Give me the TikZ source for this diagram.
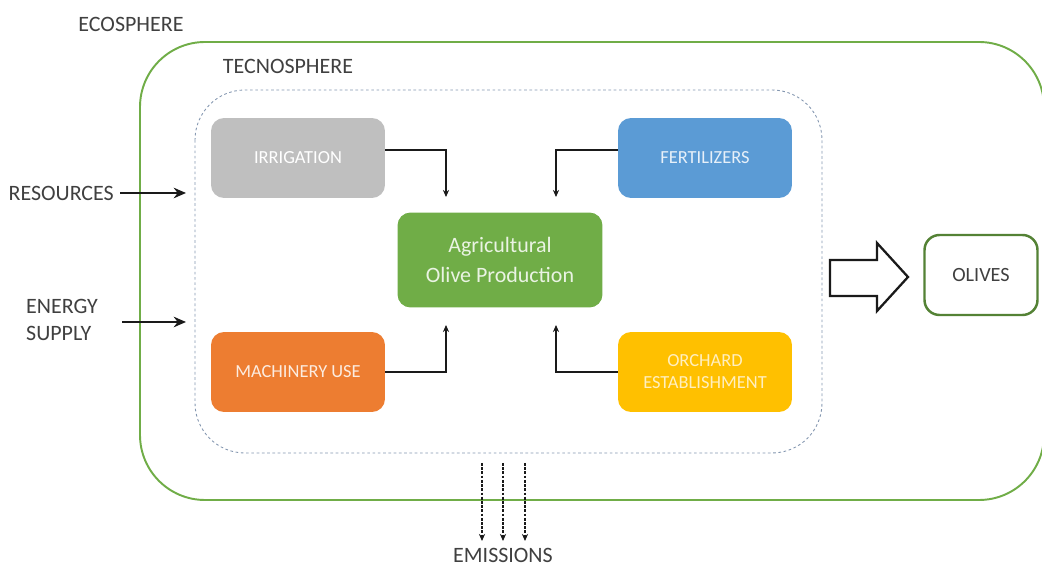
\documentclass[tikz,border=0pt]{standalone}
\usepackage{fontspec}
\setmainfont{Carlito}
\usepackage{xcolor}
\usepackage{tikz}
\usetikzlibrary{arrows.meta}
\definecolor{lcgreen}{HTML}{70AD47}
\definecolor{lcgreend}{HTML}{548235}
\definecolor{lcgrey}{HTML}{BFBFBF}
\definecolor{lcblue}{HTML}{5B9BD5}
\definecolor{lcorange}{HTML}{ED7D31}
\definecolor{lcyellow}{HTML}{FFC000}
\definecolor{lcink}{HTML}{1A1A1A}
\definecolor{lctext}{HTML}{404040}
\definecolor{lcdot}{HTML}{8497B0}
\tikzset{
  lcbox/.style={rectangle, rounded corners=0.26cm, minimum width=3.48cm, minimum height=1.6cm, align=center, font=\fontsize{10.5}{12.5}\selectfont},
  lclabel/.style={text=lctext, align=center, font=\fontsize{12.5}{15}\selectfont},
  lcflow/.style={draw=lcink, line width=0.6pt, -{Stealth[length=4pt, width=3.5pt]}},
  lcin/.style={draw=lcink, line width=1.2pt, -{Stealth[length=7pt, width=6pt]}},
  lcemit/.style={draw=lcink, line width=0.8pt, dash pattern=on 1.6pt off 0.8pt, -{Stealth[length=4pt, width=3.5pt]}}
}

\begin{document}
\begin{tikzpicture}[x=0.02cm, y=-0.02cm]
  \useasboundingbox[fill=white] (0,0) rectangle (1042,567);
  % spheres
  \draw[lcgreen, line width=1.1pt, rounded corners=1.3cm] (140,42) rectangle (1044,500);
  \draw[lcdot, line width=0.5pt, dash pattern=on 1.5pt off 1.5pt, rounded corners=1cm] (195,90) rectangle (822,453);
  \node[lclabel] (eco) at (131,24) {ECOSPHERE};
  \node[lclabel] (tecno) at (288,66) {TECNOSPHERE};
  % processes
  \node[lcbox, fill=lcgrey, text=white] (irr) at (298,158) {IRRIGATION};
  \node[lcbox, fill=lcblue, text=white!85!lcblue] (fert) at (705,158) {FERTILIZERS};
  \node[lcbox, fill=lcorange, text=white!85!lcorange] (mach) at (298,372) {MACHINERY USE};
  \node[lcbox, fill=lcyellow, text=white!75!lcyellow] (orch) at (705,372) {ORCHARD\\ESTABLISHMENT};
  \node[lcbox, fill=lcgreen, text=white!85!lcgreen, minimum width=4.1cm, minimum height=1.9cm, font=\fontsize{12.5}{17}\selectfont] (prod) at (500,260) {Agricultural\\Olive Production};
  \coordinate (irrend) at (446,197);
  \coordinate (fertend) at (556,197);
  \coordinate (machend) at (446,325);
  \coordinate (orchend) at (556,325);
  \draw[lcflow] ([yshift=0.16cm]irr.east) -| (irrend);
  \draw[lcflow] ([yshift=0.16cm]fert.west) -| (fertend);
  \draw[lcflow] (mach.east) -| (machend);
  \draw[lcflow] (orch.west) -| (orchend);
  % inputs
  \node[lclabel, anchor=east] (res) at (120,193) {RESOURCES};
  \node[lclabel, anchor=west, align=left] (energy) at (20,320) {ENERGY\\SUPPLY};
  \coordinate (resend) at (186,193);
  \coordinate (energystart) at (122,322);
  \coordinate (energyend) at (186,322);
  \draw[lcin] (res.east) -- (resend);
  \draw[lcin] (energystart) -- (energyend);
  % output
  \draw[lcink, line width=1.3pt, fill=white, line join=miter]
    (830,260) -- (877,260) -- (877,243) -- (908,277) -- (877,311) -- (877,296) -- (830,296) -- cycle;
  \node[lclabel, draw=lcgreend, fill=white, line width=1.4pt, rounded corners=0.3cm, minimum width=2.26cm, minimum height=1.6cm, font=\fontsize{11.5}{14}\selectfont] (olives) at (981,275) {OLIVES};
  % emissions
  \node[lclabel] (emis) at (503,555) {EMISSIONS};
  \foreach \ex [count=\i] in {482,503,525}{
    \coordinate (es\i) at (\ex,463);
    \coordinate (ee\i) at (\ex,541);
    \draw[lcemit] (es\i) -- (ee\i);
  }
\end{tikzpicture}
\end{document}
